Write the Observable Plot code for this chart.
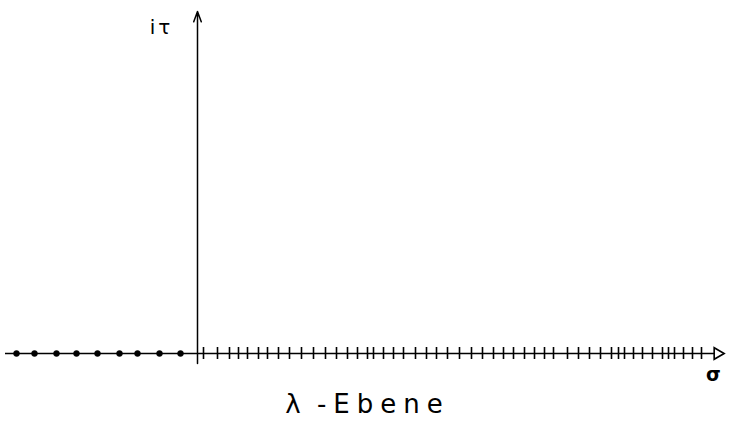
<!DOCTYPE html>
<html>
<head>
<meta charset="utf-8">
<script src="https://cdn.jsdelivr.net/npm/d3@7"></script>
<script src="https://cdn.jsdelivr.net/npm/@observablehq/plot@0.6"></script>
<style>
  html, body { margin: 0; padding: 0; background: #fff; }
  #chart svg { display: block; }
  .lbl-it text { letter-spacing: 3px; }
  .lbl-ebene text { letter-spacing: 7px; word-spacing: -6px; }
</style>
</head>
<body>
<div id="chart"></div>
<script>
// Poles on the negative real axis (σ, in plot units)
const sigmaDots = [-18.1, -16.3, -14.1, -12.1, -10.0, -7.8, -6.0, -3.8, -1.7];
// Tick marks (spectrum) on the positive real axis
const sigmaTicks = [0.6, 2.0, 3.2, 4.1, 5.0, 6.1, 7.0, 8.1, 9.2, 10.4, 11.6, 12.8, 13.9, 15.0, 16.0,
  17.0, 17.6, 18.6, 19.6, 20.6, 21.8, 22.9, 23.9, 25.0, 26.2, 27.4, 28.5, 29.6, 30.6, 31.6,
  32.7, 33.7, 34.7, 35.6, 37.0, 38.1, 39.2, 40.3, 41.4, 42.1, 42.7, 43.6, 44.5, 45.5, 46.5,
  47.1, 47.7, 48.6, 49.5, 50.4];
// Axis extents
const realAxis = [-19.2, 53.0];
const imagAxis = [-1.0, 34.2];
const axisLabels = ["iτ", "σ", "λ -Ebene"];

const chart = Plot.plot({
  width: 731,
  height: 421,
  margin: 0,
  x: {domain: [-19.7, 53.4], axis: null},
  y: {domain: [-6.8, 35.3], axis: null},
  marks: [
    // real axis
    Plot.ruleY([0], {x1: realAxis[0], x2: realAxis[1] - 1.2, stroke: "#000", strokeWidth: 1.4}),
    Plot.dot([realAxis[1]], {x: d => d - 1.0, y: 0, symbol: "triangle2", rotate: 90, r: 5.5,
      fill: "#fff", stroke: "#000", strokeWidth: 1.6}),
    // imaginary axis with arrow
    Plot.arrow([imagAxis], {x1: 0, x2: 0, y1: d => d[0], y2: d => d[1],
      stroke: "#000", strokeWidth: 1.5, headLength: 11, headAngle: 40}),
    // spectrum ticks
    Plot.ruleX(sigmaTicks, {x: d => d, y1: -0.6, y2: 0.6, stroke: "#000", strokeWidth: 1.6}),
    // poles
    Plot.dot(sigmaDots, {x: d => d, y: 0, r: 3, fill: "#000", stroke: "#000", strokeWidth: 0.5}),
    // labels
    Plot.text([axisLabels[0]], {x: -3.6, y: 32.6, text: d => d, fontSize: 20,
      fontFamily: "DejaVu Sans", fill: "#000", className: "lbl-it"}),
    Plot.text([axisLabels[1]], {x: 51.6, y: -2.1, text: d => d, fontSize: 19,
      fontFamily: "DejaVu Sans", fontWeight: "bold", fill: "#000"}),
    Plot.text([axisLabels[2]], {x: 17.0, y: -5.1, text: d => d, fontSize: 26,
      fontFamily: "DejaVu Sans", fill: "#000", className: "lbl-ebene"})
  ]
});
document.getElementById("chart").appendChild(chart);
</script>
</body>
</html>
